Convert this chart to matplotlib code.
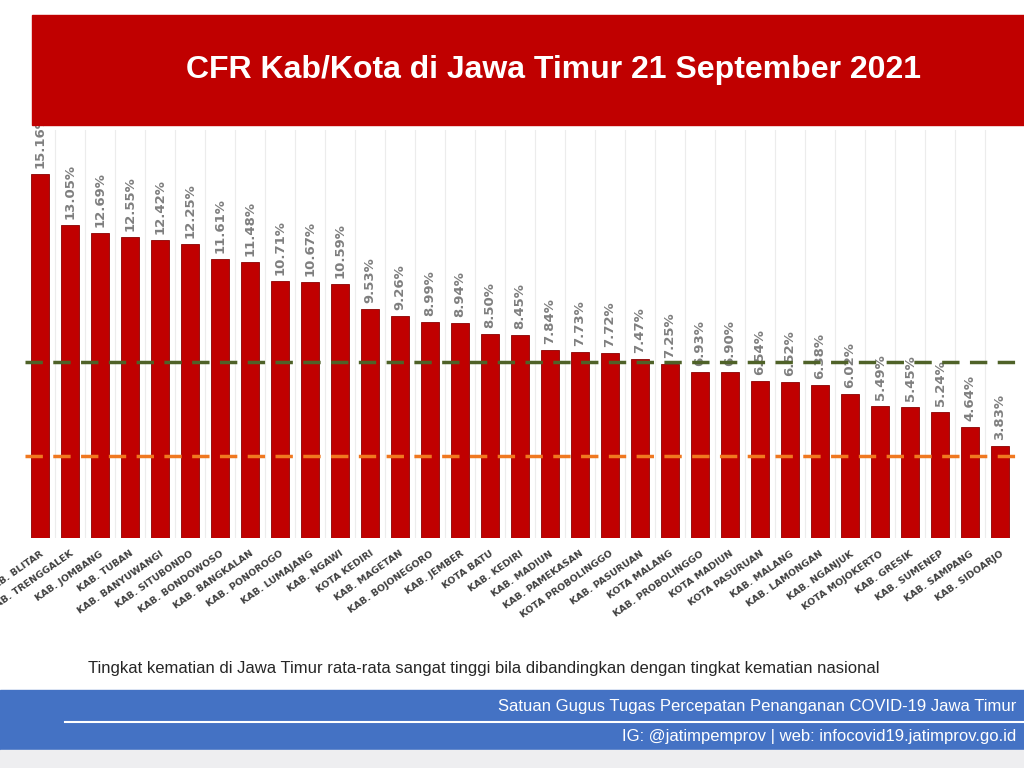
import numpy as np
import matplotlib.pyplot as plt
from matplotlib.patches import Rectangle

# --- Data ---
REGIONS = [
    "KAB. BLITAR", "KAB. TRENGGALEK", "KAB. JOMBANG", "KAB. TUBAN", "KAB. BANYUWANGI",
    "KAB. SITUBONDO", "KAB. BONDOWOSO", "KAB. BANGKALAN", "KAB. PONOROGO", "KAB. LUMAJANG",
    "KAB. NGAWI", "KOTA KEDIRI", "KAB. MAGETAN", "KAB. BOJONEGORO", "KAB. JEMBER",
    "KOTA BATU", "KAB. KEDIRI", "KAB. MADIUN", "KAB. PAMEKASAN", "KOTA PROBOLINGGO",
    "KAB. PASURUAN", "KOTA MALANG", "KAB. PROBOLINGGO", "KOTA MADIUN", "KOTA PASURUAN",
    "KAB. MALANG", "KAB. LAMONGAN", "KAB. NGANJUK", "KOTA MOJOKERTO", "KAB. GRESIK",
    "KAB. SUMENEP", "KAB. SAMPANG", "KAB. SIDOARJO",
]
CFR = [
    15.16, 13.05, 12.69, 12.55, 12.42, 12.25, 11.61, 11.48, 10.71, 10.67,
    10.59, 9.53, 9.26, 8.99, 8.94, 8.50, 8.45, 7.84, 7.73, 7.72,
    7.47, 7.25, 6.93, 6.90, 6.54, 6.52, 6.38, 6.02, 5.49, 5.45,
    5.24, 4.64, 3.83,
]
JATIM_AVG = 7.33
NATIONAL = 3.42

RED = "#c00000"
BLUE = "#4472c4"

fig = plt.figure(figsize=(10.24, 7.68), dpi=100)
fig.patch.set_facecolor("white")

# title banner
fig.patches.append(Rectangle((32 / 1024, 1 - 125 / 768), 1, 110 / 768,
                             transform=fig.transFigure, color=RED, zorder=0))
fig.text(553 / 1024, 1 - 70 / 768, "CFR Kab/Kota di Jawa Timur 21 September 2021",
         ha="center", va="center", color="white", fontsize=23, fontweight="bold",
         family="Liberation Sans")

# chart
ax = fig.add_axes([25 / 1024, 1 - 538 / 768, 1 - 25 / 1024, 408 / 768])
x = np.arange(len(CFR))
ax.bar(x, CFR, width=0.6, color=RED, edgecolor="#8b0000", linewidth=0.6, zorder=2)
for xi, v in zip(x, CFR):
    ax.text(xi, v + 0.25, f"{v:.2f}%", rotation=90, ha="center", va="bottom",
            color="#7f7f7f", fontsize=9.5, fontweight="bold", zorder=3)
ax.axhline(JATIM_AVG, color="#4f6228", linestyle="--", linewidth=2.5, dashes=(5, 3), zorder=3)
ax.axhline(NATIONAL, color="#f07820", linestyle="--", linewidth=2.5, dashes=(5, 3), zorder=3)
for xi in x[:-1]:
    ax.axvline(xi + 0.5, color="#ececec", linewidth=0.8, zorder=1)
ax.set_xlim(-0.5, 32.8)
ax.set_ylim(0, 17)
ax.set_yticks([])
ax.set_xticks(x)
ax.set_xticklabels(REGIONS, rotation=35, ha="right", rotation_mode="anchor",
                   fontsize=6.8, color="#404040", fontweight="bold")
ax.tick_params(axis="x", length=0, pad=8)
for s in ax.spines.values():
    s.set_visible(False)

# caption
fig.text(88 / 1024, 1 - 668 / 768,
         "Tingkat kematian di Jawa Timur rata-rata sangat tinggi bila dibandingkan dengan tingkat kematian nasional",
         ha="left", va="center", fontsize=12, color="#262626", family="Liberation Sans")

# footer
fig.patches.append(Rectangle((0, 1 - 750 / 768), 1, 60 / 768,
                             transform=fig.transFigure, color=BLUE, zorder=0))
fig.patches.append(Rectangle((0, 0), 1, 18 / 768,
                             transform=fig.transFigure, color="#eeeef0", zorder=0))
fig.lines.append(plt.Line2D([65 / 1024, 1], [1 - 722 / 768] * 2, transform=fig.transFigure,
                            color="white", linewidth=1.5))
fig.text(1016 / 1024, 1 - 706 / 768, "Satuan Gugus Tugas Percepatan Penanganan COVID-19 Jawa Timur",
         ha="right", va="center", fontsize=12, color="white", family="Liberation Sans")
fig.text(1016 / 1024, 1 - 737 / 768, "IG: @jatimpemprov | web: infocovid19.jatimprov.go.id",
         ha="right", va="center", fontsize=12, color="white", family="Liberation Sans")

fig.savefig("out.png", dpi=100)
